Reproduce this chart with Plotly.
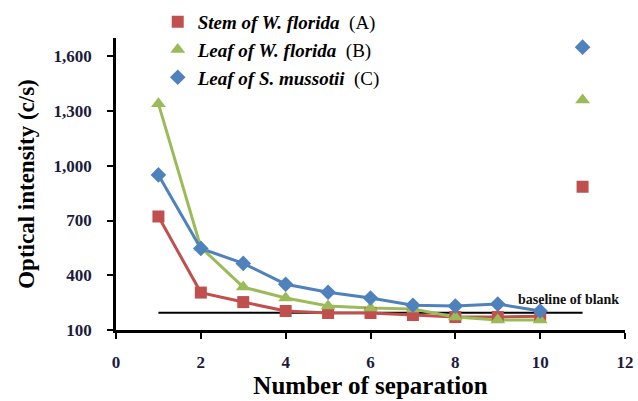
import plotly.graph_objects as go

# Separation runs 1-10 and the reference sample reading plotted at 11
separation = [1, 2, 3, 4, 5, 6, 7, 8, 9, 10]
reference_x = 11

stem_w_florida = [722, 305, 253, 204, 193, 193, 182, 171, 171, 175]
leaf_w_florida = [1340, 553, 335, 275, 231, 220, 215, 171, 155, 155]
leaf_s_mussotii = [950, 547, 465, 351, 307, 275, 236, 231, 242, 204]

stem_w_florida_ref = 885
leaf_w_florida_ref = 1360
leaf_s_mussotii_ref = 1650

baseline_blank = 195
baseline_x = [1, 11]

y_ticks = [100, 400, 700, 1000, 1300, 1600]
y_tick_text = ["100", "400", "700", "1,000", "1,300", "1,600"]
x_ticks = [0, 2, 4, 6, 8, 10, 12]

series = [
    ("<b><i>Stem of W. florida</i></b>  (A)", stem_w_florida, stem_w_florida_ref, "#C0504D", "square", 12),
    ("<b><i>Leaf of W. florida</i></b>  (B)", leaf_w_florida, leaf_w_florida_ref, "#9BBB59", "triangle-up", 13),
    ("<b><i>Leaf of S. mussotii</i></b>  (C)", leaf_s_mussotii, leaf_s_mussotii_ref, "#4F81BD", "diamond", 12),
]

SERIF = "Liberation Serif, Times New Roman, serif"
TICK_COLOR = "#1c1c3a"

fig = go.Figure()

fig.add_trace(go.Scatter(
    x=baseline_x, y=[baseline_blank] * len(baseline_x),
    mode="lines", line=dict(color="black", width=2),
    showlegend=False, hoverinfo="skip",
))

# connecting lines for the separation runs
for name, vals, ref, color, symbol, size in series:
    fig.add_trace(go.Scatter(
        x=separation, y=vals, mode="lines",
        line=dict(color=color, width=3),
        showlegend=False, hoverinfo="skip",
    ))

# markers for every reading, including the unconnected one at 11
for name, vals, ref, color, symbol, size in series:
    fig.add_trace(go.Scatter(
        x=separation + [reference_x], y=vals + [ref], name=name,
        mode="markers",
        marker=dict(symbol=symbol, size=size, color=color),
    ))

fig.add_annotation(
    x=10.66, y=baseline_blank, yshift=13, text="<b>baseline of blank</b>",
    showarrow=False, font=dict(family=SERIF, size=14, color="#111111"),
)

fig.update_layout(
    width=638, height=401,
    margin=dict(l=116, r=13, t=38, b=71, autoexpand=False),
    paper_bgcolor="white", plot_bgcolor="white",
    font=dict(family=SERIF, color="black"),
    legend=dict(
        x=0.082, y=1.12, xanchor="left", yanchor="top",
        font=dict(family=SERIF, size=19, color="black"),
        tracegroupgap=0,
        bgcolor="rgba(0,0,0,0)",
    ),
    xaxis=dict(
        range=[0, 12], tickvals=x_ticks,
        ticktext=[f"<b>{t}</b>" for t in x_ticks],
        showgrid=False, zeroline=False, automargin=False,
        showline=True, linecolor="black", linewidth=2.5,
        ticks="outside", ticklen=6, tickwidth=2, tickcolor="black",
        ticklabelstandoff=9,
        tickfont=dict(family=SERIF, size=17, color=TICK_COLOR),
        title=dict(text="<b>Number of separation</b>", standoff=5,
                   font=dict(family=SERIF, size=25, color="black")),
    ),
    yaxis=dict(
        range=[100, 1700], tickvals=y_ticks,
        ticktext=[f"<b>{t}</b>" for t in y_tick_text],
        showgrid=False, zeroline=False, automargin=False,
        showline=True, linecolor="black", linewidth=2.5,
        ticks="outside", ticklen=6, tickwidth=2, tickcolor="black",
        ticklabelstandoff=12,
        tickfont=dict(family=SERIF, size=17, color=TICK_COLOR),
        title=dict(text="<b>Optical intensity (c/s)</b>", standoff=13,
                   font=dict(family=SERIF, size=23, color="black")),
    ),
)

fig.write_html("out.html")
